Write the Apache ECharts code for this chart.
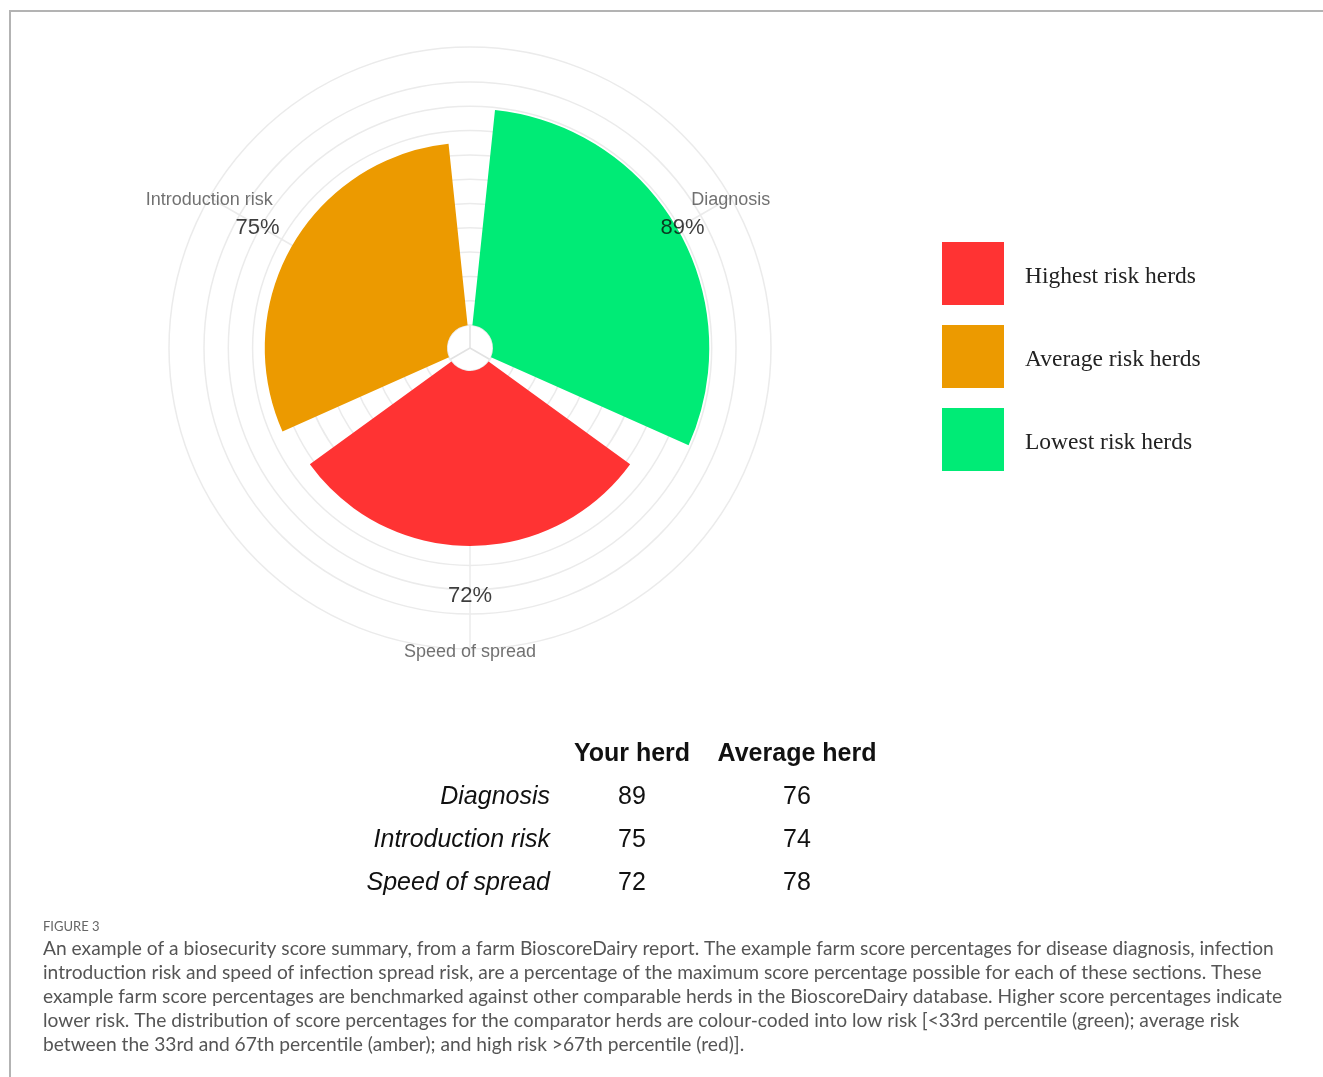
<!DOCTYPE html>
<html>
<head>
<meta charset="utf-8">
<title>Biosecurity score summary</title>
<script src="https://cdn.jsdelivr.net/npm/echarts@6/dist/echarts.min.js"></script>
<style>
  html, body { margin: 0; padding: 0; background: #ffffff; }
  #chart { width: 1323px; height: 1077px; }
</style>
</head>
<body>
<div id="chart"></div>
<script>
// Sections of the biosecurity score, in the order they go round the wheel
const sections = ['Diagnosis', 'Introduction risk', 'Speed of spread'];
// Farm score percentages and the comparator average
const yourHerd = [89, 75, 72];
const averageHerd = [76, 74, 78];
// Benchmark band each section of this farm falls in
const sectionBand = ['Lowest risk herds', 'Average risk herds', 'Highest risk herds'];
// Legend entries and their colours
const bandNames = ['Highest risk herds', 'Average risk herds', 'Lowest risk herds'];
const bandColors = ['#FF3333', '#EC9A00', '#00EB76'];
// Rings of the radial grid
const radiusTicks = [0, 10, 20, 30, 40, 50, 60, 70, 80, 90, 100];
// Summary table
const tableHeaders = ['Your herd', 'Average herd'];
// Caption
const figureLabel = 'FIGURE 3';
const captionLines = [
  'An example of a biosecurity score summary, from a farm BioscoreDairy report. The example farm score percentages for disease diagnosis, infection',
  'introduction risk and speed of infection spread risk, are a percentage of the maximum score percentage possible for each of these sections. These',
  'example farm score percentages are benchmarked against other comparable herds in the BioscoreDairy database. Higher score percentages indicate',
  'lower risk. The distribution of score percentages for the comparator herds are colour-coded into low risk [<33rd percentile (green); average risk',
  'between the 33rd and 67th percentile (amber); and high risk >67th percentile (red)].'
];

const CENTER = [470, 348];
const R_INNER = 23;
const R_OUTER = 301;
const R_MAX = 114.4;      // radial value reached at the outer ring
const LABEL_R = 91.5;     // radial position of the percentage labels
const GRID = '#ebebeb';
const SANS = '"Liberation Sans", Arial, sans-serif';
const SERIF = '"Liberation Serif", "DejaVu Serif", serif';

const barSeries = bandNames.map((band, b) => ({
  type: 'bar',
  name: band,
  coordinateSystem: 'polar',
  polarIndex: 0,
  stack: 'herd',
  barCategoryGap: '10%',
  itemStyle: { color: bandColors[b] },
  emphasis: { disabled: true },
  data: sections.map((s, i) => (sectionBand[i] === band ? yourHerd[i] : '-'))
}));

// Percentage labels inside the wheel
const valueLabels = {
  type: 'scatter',
  coordinateSystem: 'polar',
  polarIndex: 0,
  symbolSize: 0,
  silent: true,
  z: 5,
  data: sections.map((s, i) => [LABEL_R, i]),
  label: {
    show: true,
    position: 'inside',
    offset: [0, 3],
    formatter: p => yourHerd[p.dataIndex] + '%',
    fontFamily: SANS,
    fontSize: 22,
    color: '#0d0d0d'
  }
};

// Section names sitting on the outer ring
const sectionLabels = {
  type: 'scatter',
  coordinateSystem: 'polar',
  polarIndex: 0,
  symbolSize: 0,
  silent: true,
  z: 5,
  data: sections.map((s, i) => [R_MAX, i]),
  label: {
    show: true,
    position: 'inside',
    offset: [0, 3],
    formatter: p => sections[p.dataIndex],
    fontFamily: SANS,
    fontSize: 18,
    color: '#4d4d4d'
  }
};

// Summary table drawn as text
const tableGraphics = [];
const COL_X = [632, 797];
const ROW_LABEL_X = 550;
const HEADER_Y = 754;
const ROW_Y0 = 797;
const ROW_STEP = 43;
tableHeaders.forEach((h, c) => {
  tableGraphics.push({
    type: 'text',
    style: { text: h, x: COL_X[c], y: HEADER_Y, align: 'center', verticalAlign: 'middle',
             font: 'bold 25px ' + SANS, fill: '#111' }
  });
});
sections.forEach((s, r) => {
  const y = ROW_Y0 + r * ROW_STEP;
  tableGraphics.push({
    type: 'text',
    style: { text: s, x: ROW_LABEL_X, y: y, align: 'right', verticalAlign: 'middle',
             font: 'italic 25px ' + SANS, fill: '#111' }
  });
  [yourHerd[r], averageHerd[r]].forEach((v, c) => {
    tableGraphics.push({
      type: 'text',
      style: { text: String(v), x: COL_X[c], y: y, align: 'center', verticalAlign: 'middle',
               font: '25px ' + SANS, fill: '#111' }
    });
  });
});

// Caption block
const captionGraphics = [{
  type: 'text',
  style: { text: figureLabel, x: 43, y: 927, verticalAlign: 'middle',
           font: '13px Lato, "Open Sans", sans-serif', fill: '#666' }
}];
captionLines.forEach((line, k) => {
  captionGraphics.push({
    type: 'text',
    style: { text: line, x: 43, y: 949 + k * 24, verticalAlign: 'middle',
             font: '19.2px Lato, "Open Sans", sans-serif', fill: '#555' }
  });
});

// Frame lines along the top and left edge
const frame = {
  type: 'polyline',
  shape: { points: [[10, 1077], [10, 11], [1323, 11]] },
  style: { stroke: '#b3b3b3', lineWidth: 2, fill: null }
};

const option = {
  animation: false,
  backgroundColor: '#ffffff',
  polar: [
    { center: CENTER, radius: [R_INNER, R_OUTER] },
    { center: CENTER, radius: [0, R_INNER] }
  ],
  angleAxis: [
    {
      polarIndex: 0,
      type: 'category',
      data: sections,
      startAngle: 330,
      clockwise: false,
      axisLine: { show: true, lineStyle: { color: GRID, width: 1.5 } },
      axisTick: { show: true, alignWithLabel: true, inside: true, length: R_OUTER - R_INNER,
                  lineStyle: { color: GRID, width: 1.5 } },
      axisLabel: { show: false },
      splitLine: { show: false }
    },
    {
      polarIndex: 1,
      type: 'category',
      data: sections,
      startAngle: 330,
      clockwise: false,
      axisLine: { show: false },
      axisTick: { show: false },
      axisLabel: { show: false },
      splitLine: { show: true, lineStyle: { color: '#e2e2e2', width: 1.5 } }
    }
  ],
  radiusAxis: [
    {
      polarIndex: 0,
      type: 'value',
      min: 0,
      max: R_MAX,
      interval: 10,
      axisLine: { show: false },
      axisTick: { show: false, customValues: radiusTicks },
      axisLabel: { show: false, customValues: radiusTicks },
      splitLine: { show: true, lineStyle: { color: GRID, width: 1.5 } }
    },
    {
      polarIndex: 1,
      type: 'value',
      min: 0,
      max: 1,
      axisLine: { show: false },
      axisTick: { show: false },
      axisLabel: { show: false },
      splitLine: { show: false }
    }
  ],
  legend: {
    orient: 'vertical',
    left: 942,
    top: 242,
    padding: 0,
    itemWidth: 62,
    itemHeight: 63,
    itemGap: 20,
    icon: 'rect',
    selectedMode: false,
    data: bandNames,
    formatter: name => '{t|' + name + '}',
    textStyle: {
      rich: {
        t: {
          fontFamily: SERIF,
          fontSize: 23.5,
          color: '#222',
          padding: [7, 0, 0, 16]
        }
      }
    }
  },
  graphic: [frame].concat(tableGraphics, captionGraphics),
  series: barSeries.concat([valueLabels, sectionLabels])
};

const chart = echarts.init(document.getElementById('chart'), null, { renderer: 'canvas' });
chart.setOption(option);
</script>
</body>
</html>
